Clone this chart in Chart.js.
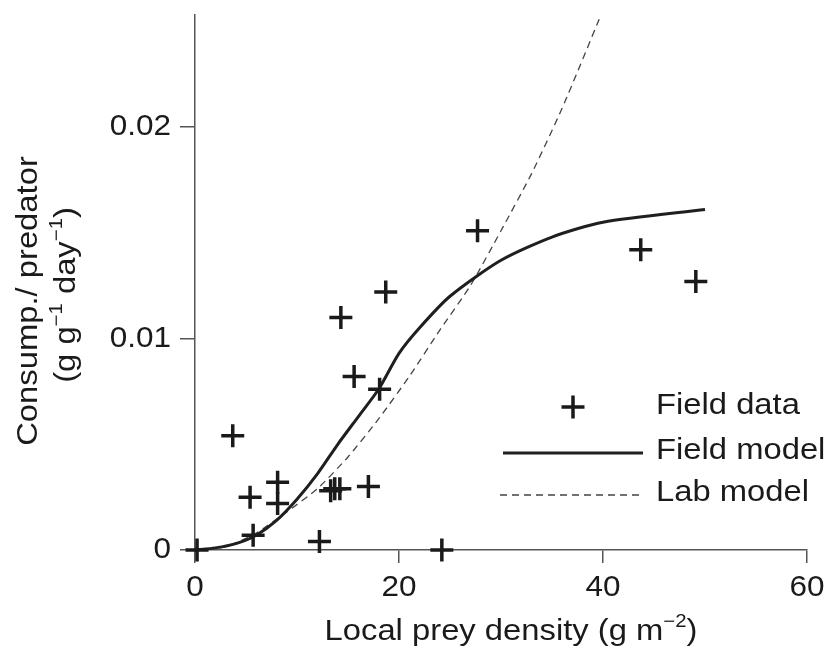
<!DOCTYPE html>
<html>
<head>
<meta charset="utf-8">
<script src="https://cdn.jsdelivr.net/npm/chart.js@4"></script>
<style>
  html, body { margin: 0; padding: 0; background: #fff; }
  canvas { display: block; }
</style>
</head>
<body>
<canvas id="preyChart" width="832" height="653"></canvas>
<script>
// field observations
const fieldX = [0.2, 3.7, 5.4, 5.7, 8.1, 8.1, 12.2, 13.3, 13.7, 14.2, 17.0, 14.3, 15.6, 18.1, 18.7, 24.2, 27.7, 43.7, 49.1];
const fieldY = [0, 0.0054, 0.0025, 0.0007, 0.0032, 0.0022, 0.0004, 0.0028, 0.0029, 0.0029, 0.0030, 0.0110, 0.0082, 0.0076, 0.0122, 0, 0.0151, 0.0142, 0.0127];

// fitted field model
const modelX = [0, 2, 4, 6, 8, 10, 12, 14, 16, 18, 20, 22, 25, 30, 35, 40, 50];
const modelY = [0, 0.0001, 0.0003, 0.0007, 0.0014, 0.0024, 0.0036, 0.0050, 0.0063, 0.0076, 0.0093, 0.0105, 0.0120, 0.0137, 0.0148, 0.0155, 0.0161];

// lab model
const labX = [0, 3, 6, 9, 12, 15, 18, 21, 24, 27, 30, 33, 36, 39.8];
const labY = [0, 0.00015, 0.0008, 0.0018, 0.0029, 0.0044, 0.0062, 0.0082, 0.0104, 0.0125, 0.0151, 0.0178, 0.0209, 0.0253];

const xTicks = [0, 20, 40, 60];
const xTickLabels = ['0', '20', '40', '60'];
const yTicks = [0, 0.01, 0.02];
const yTickLabels = ['0', '0.01', '0.02'];

const FONT = "'Liberation Sans', Arial, Helvetica, sans-serif";
const INK = '#1a1a1a';
const AXIS = '#555';

const toPts = (xs, ys) => xs.map((x, i) => ({ x: x, y: ys[i] }));

// text with superscript runs, stretched a little sideways like the original
// align: 'left' | 'center' | 'right'
function richText(ctx, parts, x, y, size, align, sx) {
    const supSize = Math.round(size * 0.62);
    let total = 0;
    parts.forEach(p => {
        ctx.font = (p[1] ? supSize : size) + 'px ' + FONT;
        total += ctx.measureText(p[0]).width;
    });
    ctx.save();
    ctx.translate(x, y);
    ctx.scale(sx, 1);
    let cx = align === 'left' ? 0 : align === 'right' ? -total : -total / 2;
    ctx.textAlign = 'left';
    ctx.textBaseline = 'middle';
    parts.forEach(p => {
        ctx.font = (p[1] ? supSize : size) + 'px ' + FONT;
        ctx.fillText(p[0], cx, p[1] ? -size * 0.36 : 0);
        cx += ctx.measureText(p[0]).width;
    });
    ctx.restore();
}

const decorations = {
    id: 'decorations',
    afterDraw(chart) {
        const ctx = chart.ctx;
        const xs = chart.scales.x;
        const ys = chart.scales.y;
        ctx.save();
        ctx.fillStyle = INK;

        // tick labels, placed with the scales
        xs.ticks.forEach(t => {
            richText(ctx, [[xTickLabels[xTicks.indexOf(t.value)], false]], xs.getPixelForValue(t.value), 588, 30, 'center', 1.05);
        });
        ys.ticks.forEach(t => {
            richText(ctx, [[yTickLabels[yTicks.indexOf(t.value)], false]], ys.right - 24, ys.getPixelForValue(t.value), 30, 'right', 1.05);
        });

        // x axis title
        richText(ctx, [['Local prey density (g m', false], ['\u22122', true], [')', false]], 511, 632, 29, 'center', 1.13);

        // y axis title (rotated, two lines)
        ctx.save();
        ctx.translate(29, 301);
        ctx.rotate(-Math.PI / 2);
        richText(ctx, [['Consump./ predator', false]], 0, 0, 29, 'center', 1.13);
        ctx.restore();
        ctx.save();
        ctx.translate(67, 295);
        ctx.rotate(-Math.PI / 2);
        richText(ctx, [['(g g', false], ['\u22121', true], [' day', false], ['\u22121', true], [')', false]], 0, 0, 29, 'center', 1.13);
        ctx.restore();

        // legend
        const ds = chart.data.datasets;
        const lx = 656;

        ctx.strokeStyle = ds[0].borderColor;
        ctx.lineWidth = ds[0].borderWidth;
        const r = ds[0].pointRadius;
        ctx.beginPath();
        ctx.moveTo(573 - r, 407); ctx.lineTo(573 + r, 407);
        ctx.moveTo(573, 407 - r); ctx.lineTo(573, 407 + r);
        ctx.stroke();
        richText(ctx, [['Field data', false]], lx, 406, 29, 'left', 1.13);

        ctx.strokeStyle = ds[1].borderColor;
        ctx.lineWidth = ds[1].borderWidth;
        ctx.beginPath();
        ctx.moveTo(503, 453); ctx.lineTo(643, 453);
        ctx.stroke();
        richText(ctx, [['Field model', false]], lx, 451, 29, 'left', 1.13);

        ctx.strokeStyle = ds[2].borderColor;
        ctx.lineWidth = ds[2].borderWidth;
        ctx.setLineDash(ds[2].borderDash);
        ctx.beginPath();
        ctx.moveTo(500, 495); ctx.lineTo(640, 495);
        ctx.stroke();
        ctx.setLineDash([]);
        richText(ctx, [['Lab model', false]], lx, 493, 29, 'left', 1.13);

        ctx.restore();
    }
};

new Chart(document.getElementById('preyChart'), {
    type: 'scatter',
    data: {
        datasets: [
            {
                label: 'Field data',
                data: toPts(fieldX, fieldY),
                pointStyle: 'cross',
                pointRadius: 11.5,
                pointHoverRadius: 11.5,
                borderColor: '#1a1a1a',
                borderWidth: 3.5,
                showLine: false,
                clip: false,
                order: 0
            },
            {
                label: 'Field model',
                data: toPts(modelX, modelY),
                showLine: true,
                borderColor: '#1f1f1f',
                borderWidth: 3,
                pointRadius: 0,
                tension: 0.25,
                fill: false,
                clip: false,
                order: 1
            },
            {
                label: 'Lab model',
                data: toPts(labX, labY),
                showLine: true,
                borderColor: '#444',
                borderWidth: 1.3,
                borderDash: [7, 5],
                pointRadius: 0,
                tension: 0.2,
                fill: false,
                clip: false,
                order: 2
            }
        ]
    },
    options: {
        responsive: false,
        animation: false,
        layout: { padding: { top: 14, right: 25, left: 0, bottom: 0 } },
        plugins: {
            legend: { display: false },
            tooltip: { enabled: false }
        },
        scales: {
            x: {
                type: 'linear',
                min: 0,
                max: 60,
                afterBuildTicks: s => { s.ticks = xTicks.map(v => ({ value: v })); },
                afterFit: s => { s.height = 103; },
                border: { display: true, color: AXIS, width: 1.5 },
                grid: { display: true, drawOnChartArea: false, drawTicks: true, tickLength: 13, color: AXIS, lineWidth: 1.5 },
                ticks: { display: false }
            },
            y: {
                type: 'linear',
                min: 0,
                max: 0.0253,
                afterBuildTicks: s => { s.ticks = yTicks.map(v => ({ value: v })); },
                afterFit: s => { s.width = 195; },
                border: { display: true, color: AXIS, width: 1.5 },
                grid: { display: true, drawOnChartArea: false, drawTicks: true, tickLength: 15, color: AXIS, lineWidth: 1.5 },
                ticks: { display: false }
            }
        }
    },
    plugins: [decorations]
});
</script>
</body>
</html>
